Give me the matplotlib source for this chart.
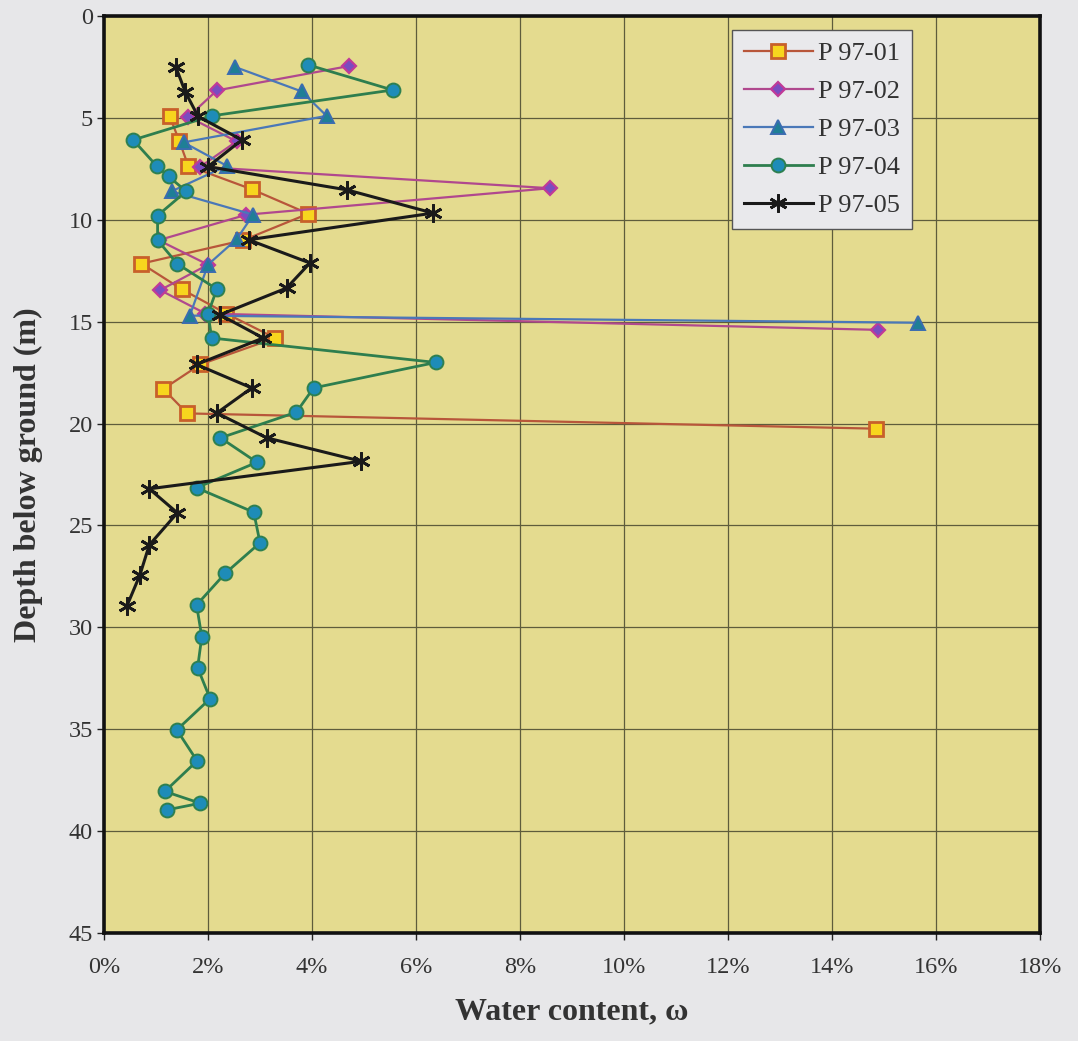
import matplotlib
matplotlib.use("Agg")
import matplotlib.pyplot as plt
from matplotlib.ticker import FuncFormatter

# ---- data: water content (%) vs depth (m) ----
p01_depth = [4.9, 6.15, 7.35, 8.5, 9.7, 11.0, 12.15, 13.4, 14.6, 15.8, 17.1, 18.3, 19.5, 20.25]
p01_w     = [1.26, 1.45, 1.62, 2.84, 3.93, 2.68, 0.72, 1.49, 2.35, 3.29, 1.85, 1.14, 1.60, 14.85]

p02_depth = [2.45, 3.65, 4.95, 6.15, 7.4, 8.45, 9.75, 11.0, 12.2, 13.45, 14.6, 15.4]
p02_w     = [4.72, 2.17, 1.62, 2.55, 1.85, 8.58, 2.74, 1.05, 2.0, 1.08, 1.95, 14.88]

p03_depth = [2.5, 3.7, 4.9, 6.2, 7.35, 8.6, 9.75, 10.95, 12.2, 14.7, 15.05]
p03_w     = [2.52, 3.8, 4.28, 1.53, 2.36, 1.30, 2.87, 2.55, 2.0, 1.65, 15.65]

p04_depth = [2.4, 3.63, 4.9, 6.08, 7.35, 7.87, 8.6, 9.79, 11.0, 12.16, 13.4, 14.6, 15.8,
             17.0, 18.25, 19.44, 20.7, 21.9, 23.15, 24.35, 25.85, 27.35, 28.9, 30.46,
             31.98, 33.5, 35.03, 36.55, 38.05, 38.63, 38.95]
p04_w     = [3.93, 5.55, 2.07, 0.56, 1.01, 1.24, 1.58, 1.03, 1.03, 1.41, 2.17, 2.0, 2.07,
             6.38, 4.03, 3.7, 2.24, 2.94, 1.78, 2.88, 3.0, 2.33, 1.78, 1.88,
             1.80, 2.04, 1.40, 1.79, 1.17, 1.85, 1.22]

p05_depth = [2.49, 3.71, 4.93, 6.08, 7.39, 8.53, 9.67, 10.98, 12.12, 13.35, 14.66, 15.8,
             17.1, 18.25, 19.48, 20.7, 21.85, 23.2, 24.38, 25.96, 27.43, 28.95]
p05_w     = [1.38, 1.56, 1.81, 2.65, 2.0, 4.67, 6.33, 2.78, 3.96, 3.51, 2.23, 3.06,
             1.78, 2.84, 2.17, 3.13, 4.95, 0.87, 1.41, 0.87, 0.69, 0.44]

labels = ["P 97-01", "P 97-02", "P 97-03", "P 97-04", "P 97-05"]
x_ticks = [0, 2, 4, 6, 8, 10, 12, 14, 16, 18]
y_ticks = [0, 5, 10, 15, 20, 25, 30, 35, 40, 45]

SERIF = ["Liberation Serif", "DejaVu Serif"]
plt.rcParams["font.family"] = SERIF

fig = plt.figure(figsize=(10.78, 10.41), dpi=100, facecolor="#E7E7E9")
ax = fig.add_axes([0.0965, 0.1037, 0.8682, 0.8809])
ax.set_facecolor("#E4DB8F")

styles = [
    dict(color="#B8563A", marker="s", mfc="#F7D51E", mec="#C8602A", ms=9.5, mew=2.0, lw=1.6),
    dict(color="#B0488E", marker="D", mfc="#7A4CC0", mec="#C03A98", ms=7.5, mew=1.6, lw=1.6),
    dict(color="#4A78B8", marker="^", mfc="#1F7F96", mec="#3A6CB0", ms=10, mew=1.4, lw=1.6),
    dict(color="#2E7E4E", marker="o", mfc="#1E8CB8", mec="#2E8050", ms=10, mew=1.4, lw=2.0),
    dict(color="#1A1A1A", marker=(6, 2, 0), mfc="#1A1A1A", mec="#1A1A1A", ms=13, mew=2.0, lw=2.2),
]
series = [(p01_w, p01_depth), (p02_w, p02_depth), (p03_w, p03_depth),
          (p04_w, p04_depth), (p05_w, p05_depth)]

for (w, d), lab, st in zip(series, labels, styles):
    ax.plot(w, d, label=lab, zorder=3, **st)

ax.set_xlim(0, 18)
ax.set_ylim(45, 0)
ax.set_xticks(x_ticks)
ax.set_yticks(y_ticks)
ax.xaxis.set_major_formatter(FuncFormatter(lambda v, p: "%d%%" % round(v)))
ax.grid(True, color="#5E5C3C", lw=0.9, zorder=1)
ax.set_axisbelow(True)

for s in ax.spines.values():
    s.set_linewidth(2.6)
    s.set_color("#111111")

ax.tick_params(axis="both", direction="out", length=5, width=1, colors="#222222",
               labelsize=17.5)
ax.tick_params(axis="x", pad=12)
ax.tick_params(axis="y", pad=3)
for t in ax.get_xticklabels() + ax.get_yticklabels():
    t.set_color("#333333")

ax.set_xlabel("Water content, ω", fontsize=23, fontweight="bold", color="#333333", labelpad=14)
ax.set_ylabel("Depth below ground (m)", fontsize=23, fontweight="bold", color="#333333", labelpad=18)

leg = ax.legend(loc="upper right", bbox_to_anchor=(0.863, 0.985), borderaxespad=0,
                prop={"family": SERIF, "size": 19}, frameon=True, fancybox=False,
                handlelength=2.6, handletextpad=0.2, labelspacing=0.55,
                borderpad=0.45, framealpha=1)
leg.get_frame().set_facecolor("#E9E9EC")
leg.get_frame().set_edgecolor("#555555")
leg.get_frame().set_linewidth(1.0)
for t in leg.get_texts():
    t.set_color("#333333")

fig.savefig("out.png", dpi=100, facecolor=fig.get_facecolor())
